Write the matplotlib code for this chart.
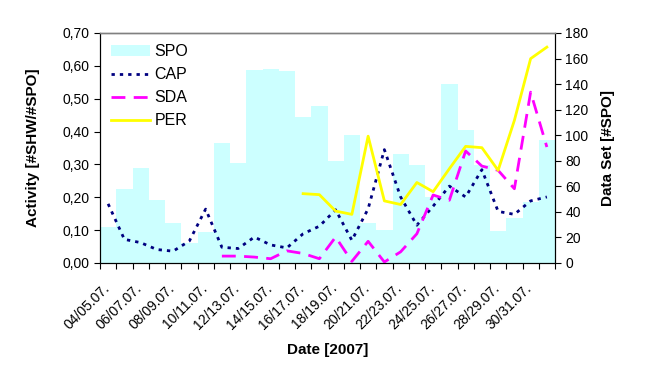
import numpy as np
import matplotlib
matplotlib.use("Agg")
import matplotlib.pyplot as plt
from matplotlib.ticker import FuncFormatter

plt.rcParams['font.family'] = ['Liberation Sans', 'DejaVu Sans']

nan = np.nan
days = list(range(4, 32))
dates = [f"{d:02d}/{d + 1:02d}.07." for d in days]

spo = [28, 58, 74, 49, 31, 16, 24, 94, 78, 151, 152, 150, 114, 123,
       80, 100, 31, 26, 85, 77, 52, 140, 104, 77, 25, 35, 48, 96]
cap = [0.180, 0.072, 0.062, 0.041, 0.036, 0.067, 0.164, 0.048, 0.044, 0.079,
       0.055, 0.046, 0.089, 0.112, 0.162, 0.069, 0.165, 0.345, 0.201, 0.115,
       0.173, 0.234, 0.201, 0.284, 0.157, 0.148, 0.189, 0.201]
sda = [nan] * 7 + [0.021, 0.021, 0.018, 0.013, 0.037, 0.029, 0.013, 0.079,
                   0.005, 0.066, 0.003, 0.034, 0.089, 0.207, 0.191, 0.341,
                   0.295, 0.282, 0.226, 0.520, 0.353]
per = [nan] * 12 + [0.211, 0.208, 0.158, 0.148, 0.386, 0.189, 0.178, 0.245,
                    0.217, 0.287, 0.355, 0.351, 0.282, 0.434, 0.622, 0.657]

x = np.arange(len(dates))

fig = plt.figure(figsize=(6.5, 3.8), dpi=100)
ax1 = fig.add_axes([100 / 650, 1 - 263 / 380, 455 / 650, 230 / 380])
ax2 = ax1.twinx()

bars = ax2.bar(x, spo, width=1.0, color='#CCFFFF', label='SPO')
l1, = ax1.plot(x, cap, color='#000080', lw=2, linestyle=(0, (1.2, 1.8)), label='CAP')
l2, = ax1.plot(x, sda, color='#FF00FF', lw=2, linestyle=(0, (5, 3)), label='SDA')
l3, = ax1.plot(x, per, color='#FFFF00', lw=2, label='PER')

ax1.set_zorder(ax2.get_zorder() + 1)
ax1.patch.set_visible(False)

ax1.set_xlim(-0.5, len(x) - 0.5)
ax1.set_ylim(0, 0.70)
ax2.set_ylim(0, 180)
ax1.set_yticks(np.arange(0, 0.71, 0.10))
ax1.yaxis.set_major_formatter(FuncFormatter(lambda v, p: f"{v:.2f}".replace('.', ',')))
ax2.set_yticks(range(0, 181, 20))

# tick marks on category boundaries, labels on every second category
ax1.set_xticks(np.arange(-0.5, len(x), 1.0))
ax1.set_xticklabels([])
ax1.set_xticks(x[::2] - 0.35, minor=True)
ax1.set_xticklabels(dates[::2], minor=True, rotation=45, ha='right',
                    rotation_mode='anchor', fontsize=10)
ax1.tick_params(axis='x', which='minor', length=0, pad=13)
ax1.tick_params(axis='x', which='major', direction='out', length=4)
ax1.tick_params(axis='y', direction='out', length=4, labelsize=10)
ax2.tick_params(axis='y', direction='out', length=4, labelsize=10)

for ax in (ax1, ax2):
    ax.spines['top'].set_color('#808080')
    ax.spines['top'].set_linewidth(1)

ax1.set_ylabel("Activity [#SHW/#SPO]", fontsize=11, fontweight='bold', labelpad=16)
ax2.set_ylabel("Data Set [#SPO]", fontsize=11, fontweight='bold', labelpad=9)
ax1.set_xlabel("Date [2007]", fontsize=11, fontweight='bold', labelpad=8)

ax1.legend([bars, l1, l2, l3], ['SPO', 'CAP', 'SDA', 'PER'], loc='upper left',
           frameon=False, fontsize=11.5, handlelength=2.4, handletextpad=0.3,
           labelspacing=0.5, borderaxespad=0.3)

fig.savefig("out.png", dpi=100)
